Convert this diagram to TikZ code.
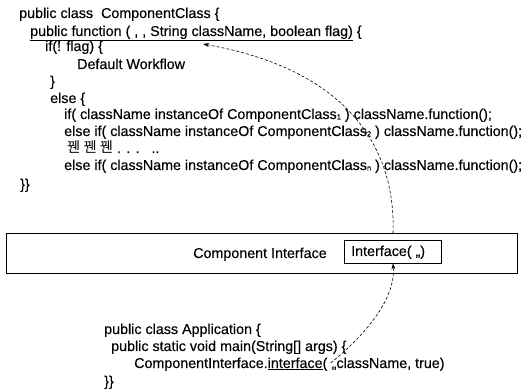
\documentclass[tikz,border=0pt]{standalone}
\usepackage{fontspec}
\setmainfont{Liberation Sans}[FakeBold=0.3]
\newfontfamily\kofont{Noto Sans CJK KR}
\usetikzlibrary{arrows.meta}
\newcommand{\subn}[1]{{\fontsize{7.5}{7.5}\selectfont\raisebox{-0.5pt}{#1}}}
\begin{document}
\begin{tikzpicture}[x=1pt,y=-1pt,
  code/.style={anchor=base west,inner sep=0pt,font=\fontsize{14.3}{16}\selectfont},
  flow/.style={densely dashed,line width=0.6pt,-{Stealth[length=6pt,width=4pt]}},
  ibox/.style={draw,line width=0.6pt}]
\useasboundingbox (0,0) rectangle (528,390);
% component class code
\node[code] (l1) at (19,18) {public class\ \ ComponentClass \{};
\node[code] (l2) at (30,36) {\underline{public function ( , , String className, boolean flag)} \{};
\node[code] (l3) at (45,51) {if(! flag) \{};
\node[code] (l4) at (77,69) {Default Workflow};
\node[code] (l5) at (50,86) {\}};
\node[code] (l6) at (50,103) {else \{};
\node[code] (l7) at (64,119) {if( className instanceOf ComponentClass\subn{1} ) className.function();};
\node[code] (l8) at (64,136) {else if( className instanceOf ComponentClass\subn{2} ) className.function();};
\node[code] (l9) at (67,153) {{\kofont 꿴 꿴 꿴} . . .\ \ \ ..};
\node[code] (l10) at (64,170) {else if( className instanceOf ComponentClass\subn{n} ) className.function();};
\node[code] (l11) at (20,189) {\}\}};
% component interface
\node[ibox,minimum width=511,minimum height=40,inner sep=0pt] (ci) at (262,253.5) {};
\node[code] (cil) at (193,258) {Component Interface};
\node[ibox,minimum width=97,minimum height=23,inner sep=0pt] (if) at (393,251.5) {};
\node[code] (ifl) at (351,256) {Interface( ,,)};
% application
\node[code] (a1) at (104,334) {public class Application \{};
\node[code] (a2) at (111,351) {public static void main(String[] args) \{};
\node[code] (a3) at (134,368) {ComponentInterface.\underline{interface}(};
\node[code] (a3r) at (a3.base east) {\ ,,className, true)};
\node[code] (a4) at (104,386) {\}\}};
\coordinate (s1) at ([shift={(3,-5)}]a3.base east);
\coordinate (t2) at (203,44);
% connectors
\draw[flow] (s1) .. controls (362,338) and (396,300) .. (if.south);
\draw[flow] (ci.north -| if.north) .. controls (396,150) and (350,70) .. (t2);
\end{tikzpicture}
\end{document}
